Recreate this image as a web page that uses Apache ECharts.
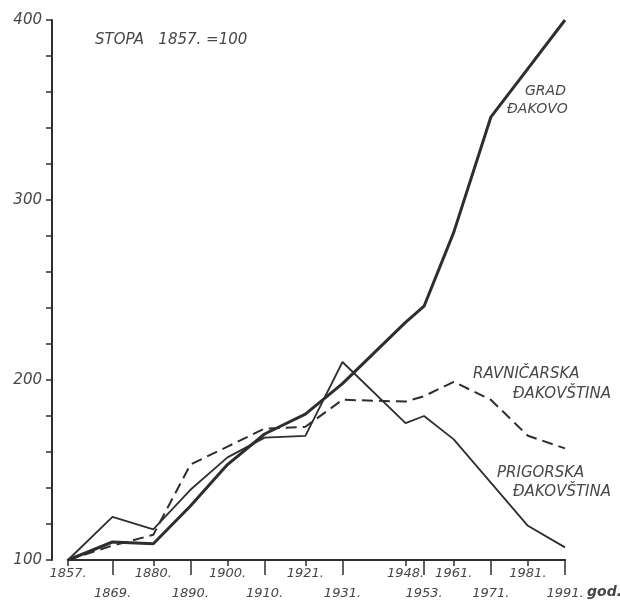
<!DOCTYPE html>
<html>
<head>
<meta charset="utf-8">
<script src="https://cdn.jsdelivr.net/npm/echarts@6/dist/echarts.min.js"></script>
<style>
  html, body { margin: 0; padding: 0; background: #fff; }
  #chart { width: 620px; height: 605px; }
</style>
</head>
<body>
<div id="chart"></div>
<script>
// census years and indices (1857 = 100)
const years = [1857, 1869, 1880, 1890, 1900, 1910, 1921, 1931, 1948, 1953, 1961, 1971, 1981, 1991]
const gradDakovo = [100, 110, 109, 130, 153, 170, 181, 198, 232, 241, 282, 346, 373, 400]
const ravnicarska = [100, 108, 114, 153, 163, 173, 174, 189, 188, 191, 199, 189, 169, 162]
const prigorska = [100, 124, 117, 139, 157, 168, 169, 210, 176, 180, 167, 143, 119, 107]

// tick labels alternate between two rows
const upperYears = [1857, 1880, 1900, 1921, 1948, 1961, 1981]
const lowerYears = [1869, 1890, 1910, 1931, 1953, 1971, 1991]
const yTicks = [100, 200, 300, 400]

const ink = '#2e2e2e'
const textInk = '#474747'
const font = 'DejaVu Sans'

const pairs = arr => years.map((y, i) => [y, arr[i]])

const xBase = {
  type: 'value',
  min: 1857,
  max: 1991,
  position: 'bottom',
  splitLine: { show: false },
  axisLine: { show: true, lineStyle: { color: ink, width: 2 } }
}

const chart = echarts.init(document.getElementById('chart'))
chart.setOption({
  animation: false,
  grid: { left: 68, right: 55, top: 20, bottom: 45 },
  xAxis: [
    {
      ...xBase,
      axisTick: { customValues: upperYears, length: 6, lineStyle: { color: ink, width: 1.5 } },
      axisLabel: {
        customValues: upperYears,
        margin: 7,
        formatter: v => v + '.',
        color: textInk,
        fontSize: 13,
        fontStyle: 'italic',
        fontFamily: font
      }
    },
    {
      ...xBase,
      axisTick: { customValues: lowerYears, length: 15, lineStyle: { color: ink, width: 1.5 } },
      axisLabel: {
        customValues: lowerYears,
        margin: 27,
        formatter: v => v + '.',
        color: textInk,
        fontSize: 13,
        fontStyle: 'italic',
        fontFamily: font
      }
    }
  ],
  yAxis: {
    type: 'value',
    min: 100,
    max: 400,
    interval: 100,
    offset: 16,
    splitLine: { show: false },
    axisLine: { show: true, lineStyle: { color: ink, width: 2 } },
    axisTick: { length: 6, lineStyle: { color: ink, width: 1.5 } },
    minorTick: { show: true, splitNumber: 5, length: 6, lineStyle: { color: ink, width: 1.5 } },
    axisLabel: {
      customValues: yTicks,
      margin: 10,
      color: textInk,
      fontSize: 15,
      fontStyle: 'italic',
      fontFamily: font
    }
  },
  graphic: [
    { type: 'text', left: 95, top: 33, style: { text: 'STOPA   1857. =100', fill: textInk, font: 'italic 15px DejaVu Sans' } },
    { type: 'text', left: 525, top: 84, style: { text: 'GRAD', fill: textInk, font: 'italic 14px DejaVu Sans' } },
    { type: 'text', left: 507, top: 102, style: { text: 'ĐAKOVO', fill: textInk, font: 'italic 14px DejaVu Sans' } },
    { type: 'text', left: 473, top: 367, style: { text: 'RAVNIČARSKA', fill: textInk, font: 'italic 15px DejaVu Sans' } },
    { type: 'text', left: 513, top: 387, style: { text: 'ĐAKOVŠTINA', fill: textInk, font: 'italic 15px DejaVu Sans' } },
    { type: 'text', left: 497, top: 466, style: { text: 'PRIGORSKA', fill: textInk, font: 'italic 15px DejaVu Sans' } },
    { type: 'text', left: 513, top: 485, style: { text: 'ĐAKOVŠTINA', fill: textInk, font: 'italic 15px DejaVu Sans' } },
    { type: 'text', left: 587, top: 585, style: { text: 'god.', fill: textInk, font: 'italic bold 14px DejaVu Sans' } }
  ],
  series: [
    {
      name: 'GRAD ĐAKOVO',
      type: 'line',
      data: pairs(gradDakovo),
      symbol: 'none',
      lineStyle: { color: ink, width: 3 }
    },
    {
      name: 'RAVNIČARSKA ĐAKOVŠTINA',
      type: 'line',
      data: pairs(ravnicarska),
      symbol: 'none',
      lineStyle: { color: ink, width: 2, type: [11, 6] }
    },
    {
      name: 'PRIGORSKA ĐAKOVŠTINA',
      type: 'line',
      data: pairs(prigorska),
      symbol: 'none',
      lineStyle: { color: ink, width: 1.8 }
    }
  ]
})
</script>
</body>
</html>
